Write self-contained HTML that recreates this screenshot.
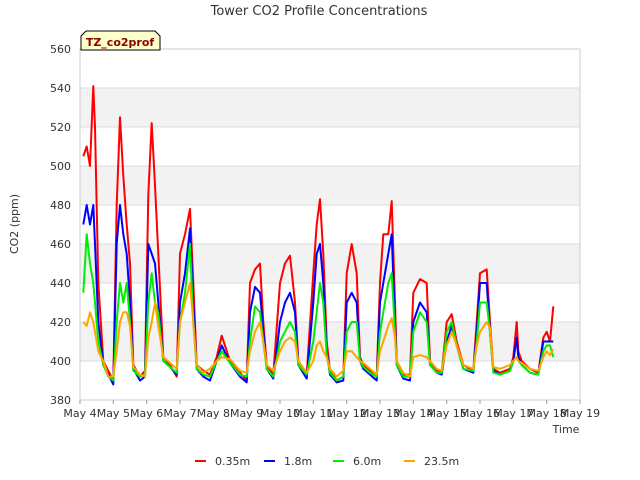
<!DOCTYPE html>
<html><head><meta charset="utf-8">
<style>
body{margin:0;background:#fff;}
svg{display:block;font-family:"DejaVu Sans","Liberation Sans",sans-serif;}
</style></head>
<body>
<svg id="chart" width="640" height="480" viewBox="0 0 640 480" xmlns="http://www.w3.org/2000/svg">
<text x="319" y="15" text-anchor="middle" font-size="13" fill="#333">Tower CO2 Profile Concentrations</text>
<g id="bands"></g>
<g id="grid"></g>
<g id="series"></g>
<g id="yaxis"></g>
<g id="xaxis"></g>
<text transform="translate(18,224) rotate(-90)" text-anchor="middle" font-size="11" fill="#333">CO2 (ppm)</text>
<text x="566" y="433" text-anchor="middle" font-size="11" fill="#333">Time</text>
<g>
<path d="M81,50 L81,36 L86,31 L155,31 L160,36 L160,50 Z" fill="#ffffcc" stroke="#000" stroke-width="1"/>
<text x="120" y="46" text-anchor="middle" font-size="11" font-weight="bold" fill="#8b0000">TZ_co2prof</text>
</g>
<g id="legend"></g>
</svg>
<script>
const days = [0.1,0.2,0.3,0.4,0.45,0.55,0.7,0.85,1.0,1.1,1.2,1.3,1.4,1.5,1.6,1.8,1.95,2.05,2.15,2.25,2.35,2.5,2.7,2.9,3.0,3.15,3.3,3.4,3.5,3.7,3.9,4.1,4.25,4.5,4.8,5.0,5.1,5.25,5.4,5.5,5.6,5.8,6.0,6.15,6.3,6.45,6.55,6.8,7.0,7.1,7.2,7.3,7.4,7.5,7.7,7.9,8.0,8.15,8.3,8.4,8.5,8.7,8.9,9.0,9.1,9.25,9.35,9.45,9.5,9.7,9.9,10.0,10.2,10.4,10.5,10.7,10.85,11.0,11.15,11.3,11.5,11.8,11.9,12.0,12.2,12.3,12.4,12.6,12.9,13.0,13.1,13.15,13.25,13.5,13.75,13.9,14.0,14.1,14.2];
const s035 = [505,510,500,541,520,440,400,395,390,480,525,495,470,450,398,392,395,485,522,490,455,402,398,392,455,465,478,440,398,395,393,402,413,400,394,390,440,447,450,420,398,393,440,450,454,430,400,393,445,470,483,455,410,395,390,392,445,460,445,402,398,395,392,440,465,465,482,430,400,393,393,435,442,440,400,395,394,420,424,410,398,395,420,445,447,420,396,394,396,402,420,405,400,396,394,412,415,410,428];
const s18 = [470,480,470,480,460,420,398,393,388,460,480,465,455,430,396,390,392,460,455,450,430,400,397,393,430,445,468,430,396,392,390,400,408,399,392,389,425,438,435,415,396,391,420,430,435,425,398,391,430,455,460,440,405,393,389,390,430,435,430,400,396,393,390,430,440,455,465,420,398,391,390,420,430,425,398,394,393,410,418,408,396,394,415,440,440,415,395,393,395,400,412,402,398,394,393,410,410,410,410];
const s60 = [435,465,450,440,430,410,398,392,390,420,440,430,440,420,395,392,393,430,445,430,425,400,397,394,420,435,460,420,396,393,392,400,405,399,393,392,410,428,425,410,396,392,410,415,420,415,398,393,410,425,440,430,403,394,390,392,415,420,420,400,397,394,392,415,425,440,445,415,398,392,392,415,425,420,398,394,394,415,420,408,396,395,410,430,430,415,394,393,395,400,402,400,398,394,393,405,408,408,402];
const s235 = [420,418,425,420,415,405,400,392,392,405,420,425,425,418,397,393,392,412,420,430,418,402,399,396,420,430,440,420,398,394,396,400,402,401,395,394,405,415,420,410,398,395,405,410,412,410,400,394,400,408,410,405,402,396,392,395,405,405,402,400,399,396,393,405,410,418,422,412,400,394,392,402,403,402,400,396,395,408,415,408,398,396,408,415,420,417,397,396,398,400,402,400,399,396,395,402,405,403,406];
const yTicks = [380,400,420,440,460,480,500,520,540,560];
const xTickLabels = ["May 4","May 5","May 6","May 7","May 8","May 9","May 10","May 11","May 12","May 13","May 14","May 15","May 16","May 17","May 18","May 19"];
const seriesNames = ["0.35m","1.8m","6.0m","23.5m"];

const NS="http://www.w3.org/2000/svg";
const X0=80,X1=580,Y0=400,Y1=49;
const xs=d=>X0+(X1-X0)*d/15;
const ys=v=>Y0-(Y0-Y1)*(v-380)/180;
function mk(tag,attrs,parent){const e=document.createElementNS(NS,tag);for(const k in attrs)e.setAttribute(k,attrs[k]);parent.appendChild(e);return e;}
const bands=document.getElementById('bands'),grid=document.getElementById('grid');
mk('rect',{x:X0,y:Y1,width:X1-X0,height:Y0-Y1,fill:'#fff'},bands);
for(let i=0;i<yTicks.length-1;i++){
  if(i%2===1){const r=mk('rect',{x:X0,y:ys(yTicks[i+1]),width:X1-X0,height:ys(yTicks[i])-ys(yTicks[i+1]),fill:'#f2f2f2'},bands);
  
  }
}
yTicks.forEach(v=>{const l=mk('line',{x1:X0,x2:X1,y1:ys(v),y2:ys(v),stroke:'#dcdcdc','stroke-width':1},grid);

});
mk('rect',{x:X0,y:Y1,width:X1-X0,height:Y0-Y1,fill:'none',stroke:'#ccc'},grid);
const yax=document.getElementById('yaxis');
yTicks.forEach(v=>{const t=mk('text',{x:71,y:ys(v)+4,'text-anchor':'end','font-size':11,fill:'#333'},yax);t.textContent=v;

});
const xax=document.getElementById('xaxis');
xTickLabels.forEach((s,i)=>{mk('line',{x1:xs(i),x2:xs(i),y1:Y0,y2:Y0+4,stroke:'#999'},xax);
const t=mk('text',{x:xs(i),y:Y0+17,'text-anchor':'middle','font-size':11,fill:'#333'},xax);t.textContent=s;

});
const colors=['#ff0000','#0000ff','#00ee00','#ffa500'];
const data=[s035,s18,s60,s235];
const sg=document.getElementById('series');
data.forEach((arr,k)=>{const pts=arr.map((v,i)=>xs(days[i]).toFixed(1)+','+ys(v).toFixed(1)).join(' ');
const p=mk('polyline',{points:pts,fill:'none',stroke:colors[k],'stroke-width':2,'stroke-linejoin':'round'},sg);

});
const lg=document.getElementById('legend');
const lx=[195,264,333,404];
seriesNames.forEach((s,k)=>{const g=mk('g',{},lg);


mk('line',{x1:lx[k],x2:lx[k]+11,y1:461,y2:461,stroke:colors[k],'stroke-width':2},g);
const t=mk('text',{x:lx[k]+20,y:465,'font-size':11,fill:'#333'},g);t.textContent=s;});
</script>
</body></html>
